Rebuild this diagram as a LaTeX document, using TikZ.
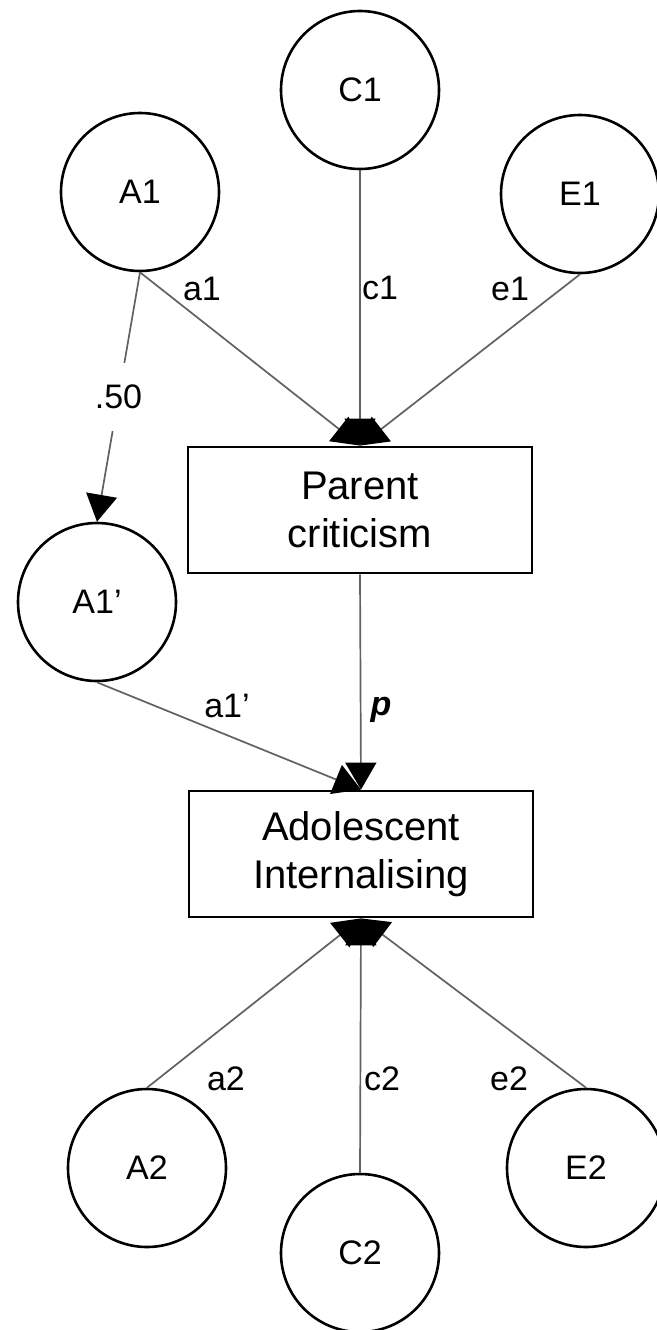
\documentclass[tikz,border=0pt]{standalone}
\usepackage{fontspec}
\setmainfont{Liberation Sans}
\usetikzlibrary{arrows.meta}
\begin{document}
\begin{tikzpicture}[x=1pt,y=-1pt,
  latent/.style={draw=black, line width=2.6pt, circle, minimum size=158pt, inner sep=0pt, font=\fontsize{34}{38}\selectfont},
  observed/.style={draw=black, line width=2.8pt, rectangle, minimum width=344pt, minimum height=126pt, align=center, font=\fontsize{40}{48}\selectfont},
  path/.style={draw=black!62, line width=1.7pt, -{Triangle[length=27pt,width=31pt,color=black]}},
  lbl/.style={font=\fontsize{34}{38}\selectfont, inner sep=0pt}
]
\useasboundingbox (0,0) rectangle (656,1330);
% latent factors
\node[latent] (C1) at (360,90) {C1};
\node[latent] (A1) at (140,192) {A1};
\node[latent] (E1) at (580,194) {E1};
\node[latent] (A1p) at (97,602) {A1'};
\node[latent] (A2) at (147,1168) {A2};
\node[latent] (C2) at (360,1253) {C2};
\node[latent] (E2) at (586,1168) {E2};
% observed variables
\node[observed] (PC) at (360,510) {Parent\\criticism};
\node[observed] (AI) at (361,854) {Adolescent\\Internalising};
% paths
\draw[path] (A1.south) -- (PC.north);
\draw[path] (C1.south) -- (PC.north);
\draw[path] (E1.south) -- (PC.north);
\draw[path] (A1.south) -- node[pos=0.5, fill=white, lbl, minimum height=68pt, inner xsep=3pt] {.50} (A1p.north);
\draw[path] (A1p.south) -- (AI.north);
\draw[path] (PC.south) -- (AI.north);
\draw[path] (A2.north) -- (AI.south);
\draw[path] (C2.north) -- (AI.south);
\draw[path] (E2.north) -- (AI.south);
% labels
\node[lbl] (la1) at (202,289) {a1};
\node[lbl] (lc1) at (380,288) {c1};
\node[lbl] (le1) at (510,289) {e1};
\node[lbl] (la1p) at (227,706) {a1'};
\node[lbl] (lp) at (381,710) {\textbf{\textit{p}}};
\node[lbl] (la2) at (226,1079) {a2};
\node[lbl] (lc2) at (382,1079) {c2};
\node[lbl] (le2) at (509,1079) {e2};
\end{tikzpicture}
\end{document}
